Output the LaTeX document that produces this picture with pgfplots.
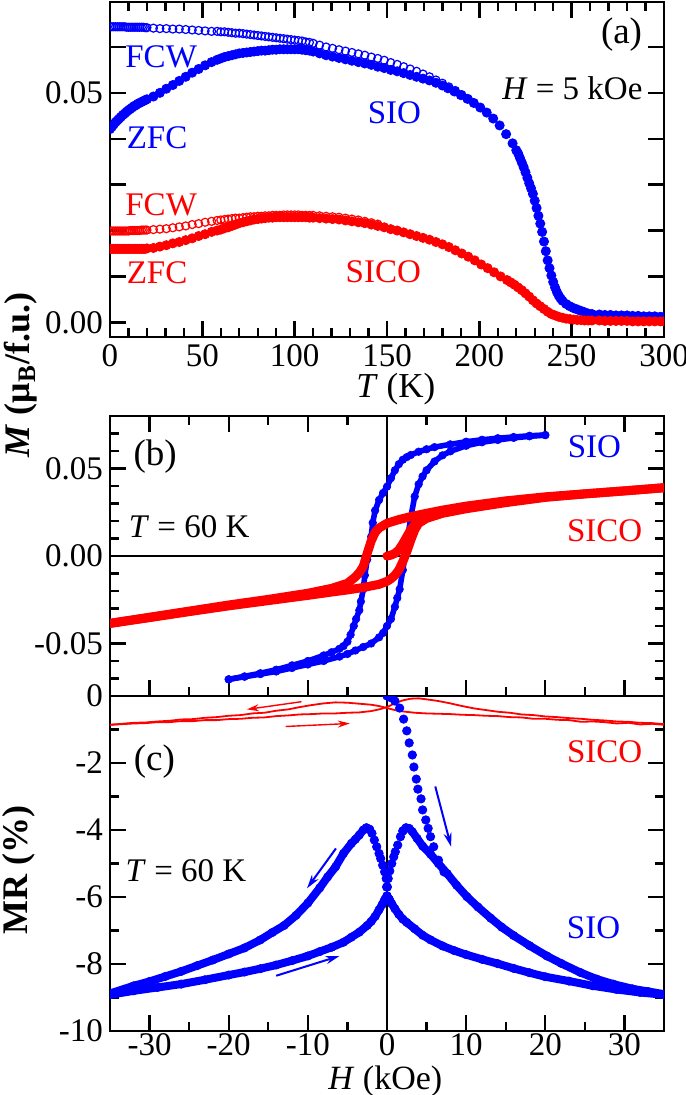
\documentclass[border=0pt]{standalone}
\usepackage{fontspec}
\setmainfont{Liberation Serif}
\usepackage{pgfplots}
\pgfplotsset{compat=1.18}
\usetikzlibrary{arrows.meta}
\definecolor{myblue}{RGB}{0,0,255}
\definecolor{myred}{RGB}{255,0,0}
\pgfplotsset{
  myaxis/.style={
    scale only axis, width=277pt,
    axis line style={line width=1.4pt},
    every tick/.style={black, line width=1.2pt},
    major tick length=8pt, minor tick length=4.5pt,
    tick align=inside,
    scaled ticks=false,
    ticklabel style={font=\fontsize{16.5}{18}\selectfont},
    /pgf/number format/assume math mode=true,
    clip marker paths=true,
  },
}
\tikzset{
  lab/.style={font=\fontsize{16.5}{18}\selectfont},
  plab/.style={font=\fontsize{18.5}{20}\selectfont},
}
\begin{document}
\begin{tikzpicture}
\useasboundingbox (0pt,0pt) rectangle (342.5pt,-547.5pt);
% ---------------- (a)
\begin{axis}[myaxis, at={(55pt,-1pt)}, anchor=north west, height=167.5pt,
  xmin=0, xmax=300, ymin=-0.0032, ymax=0.0698,
  xtick={0,50,100,150,200,250,300}, minor xtick={10,20,30,40,60,70,80,90,110,120,130,140,160,170,180,190,210,220,230,240,260,270,280,290},
  ytick={0,0.01,0.02,0.03,0.04,0.05,0.06}, yticklabels={0.00,,,,,0.05,},
  xticklabels={0,50,100,150,200,250,300},
  xlabel={\textit{T} (K)}, xlabel style={font=\fontsize{17.5}{19}\selectfont, at={(axis description cs:0.516,0)}, anchor=center, yshift=-26pt},
]
% SIO FCW
\addplot[only marks, mark=o, mark size=2pt, mark options={line width=0.6pt}, color=myblue] table {
0 0.0644
1 0.0644
2 0.0644
3 0.0644
4 0.0644
5 0.0644
6 0.0644
7 0.0644
8 0.0644
9 0.0643
10 0.0643
11 0.0643
12 0.0643
13 0.0643
14 0.0643
15 0.0643
16 0.0643
17 0.0643
18 0.0643
19 0.0642
20 0.0642
23.5 0.0641
27 0.0640
30.5 0.0640
34 0.0639
37.5 0.0639
41 0.0638
44.5 0.0637
48 0.0636
51.5 0.0635
55 0.0634
58 0.0634
60 0.0633
62 0.0633
64 0.0632
66 0.0631
68 0.0630
70 0.0630
72 0.0629
74 0.0628
76 0.0627
78 0.0626
80 0.0625
82 0.0624
84 0.0623
86 0.0622
88 0.0621
90 0.0620
92 0.0619
94 0.0618
96 0.0617
98 0.0616
100 0.0615
102 0.0614
104 0.0613
106 0.0611
108 0.0610
110 0.0608
113.5 0.0604
117 0.0600
120.5 0.0597
124 0.0594
127.5 0.0591
131 0.0588
134.5 0.0585
138 0.0582
141.5 0.0578
145 0.0575
148.5 0.0571
152 0.0566
155.5 0.0562
159 0.0557
162.5 0.0552
166 0.0547
169.5 0.0541
173 0.0535
176.5 0.0528
180 0.0521
183.5 0.0513
187 0.0505
190.5 0.0496
194 0.0487
};
% SIO ZFC
\addplot[only marks, mark=*, mark size=2.3pt, color=myblue] table {
0 0.0421
1 0.0426
2 0.0431
3 0.0436
4 0.0440
5 0.0444
6 0.0448
7 0.0452
8 0.0455
9 0.0459
10 0.0462
11 0.0465
12 0.0468
13 0.0471
14 0.0473
15 0.0476
16 0.0478
17 0.0480
18 0.0482
19 0.0484
20 0.0486
23.5 0.0492
27 0.0500
30.5 0.0509
34 0.0517
37.5 0.0526
41 0.0535
44.5 0.0544
48 0.0552
51.5 0.0560
55 0.0567
58 0.0572
60 0.0575
62 0.0578
64 0.0580
66 0.0582
68 0.0584
70 0.0586
72 0.0587
74 0.0588
76 0.0589
78 0.0590
80 0.0591
82 0.0592
84 0.0592
86 0.0593
88 0.0594
90 0.0594
92 0.0595
94 0.0595
96 0.0595
98 0.0595
100 0.0595
102 0.0595
104 0.0594
106 0.0593
108 0.0592
110 0.0590
113.5 0.0586
117 0.0582
120.5 0.0579
124 0.0576
127.5 0.0573
131 0.0570
134.5 0.0567
138 0.0564
141.5 0.0561
145 0.0557
148.5 0.0554
152 0.0550
155.5 0.0547
159 0.0543
162.5 0.0539
166 0.0535
169.5 0.0531
173 0.0527
176.5 0.0522
180 0.0516
183 0.0510
186.5 0.0503
190 0.0495
193.5 0.0487
197 0.0478
200.5 0.0468
204 0.0457
207.5 0.0444
211 0.0429
214.5 0.0410
218 0.0390
220 0.0375
221 0.0368
222 0.0358
223 0.0348
224 0.0338
225 0.0327
226 0.0315
227 0.0303
228 0.0292
229 0.0280
230 0.0265
231 0.0249
232 0.0232
233 0.0215
234 0.0197
235 0.0176
236 0.0155
237 0.0135
238 0.0118
239 0.0102
240 0.0088
241 0.0076
242 0.0066
243 0.0058
244 0.0052
245 0.0047
247 0.0040
249 0.0035
251 0.0031
253 0.0028
255 0.0025
257 0.0022
259 0.0019
261 0.0018
265 0.0017
268 0.0016
271 0.0016
274 0.0015
277 0.0015
280 0.0015
283 0.0014
286 0.0014
289 0.0013
292 0.0013
295 0.0013
298 0.0012
300 0.0012
};
% SICO FCW
\addplot[only marks, mark=o, mark size=2pt, mark options={line width=0.6pt}, color=myred] table {
0 0.0199
1 0.0199
2 0.0199
3 0.0199
4 0.0199
5 0.0199
6 0.0199
7 0.0199
8 0.0199
9 0.0199
10 0.0199
11 0.0200
12 0.0200
13 0.0200
14 0.0200
15 0.0200
16 0.0200
17 0.0201
18 0.0201
19 0.0201
20 0.0201
23.5 0.0202
27 0.0203
30.5 0.0204
34 0.0206
37.5 0.0208
41 0.0210
44.5 0.0213
48 0.0215
51.5 0.0218
55 0.0220
58 0.0222
60 0.0223
62 0.0224
64 0.0225
66 0.0226
68 0.0227
70 0.0227
72 0.0228
74 0.0229
76 0.0230
78 0.0230
80 0.0231
82 0.0231
84 0.0232
86 0.0232
88 0.0233
90 0.0233
92 0.0233
94 0.0234
96 0.0234
98 0.0234
100 0.0234
102 0.0234
104 0.0233
106 0.0233
108 0.0233
110 0.0233
113.5 0.0232
117 0.0231
120.5 0.0230
124 0.0229
127.5 0.0227
131 0.0225
134.5 0.0223
138 0.0220
141.5 0.0217
145 0.0214
};
% SICO ZFC
\addplot[only marks, mark=*, mark size=2.3pt, color=myred] table {
0 0.0160
1 0.0160
2 0.0160
3 0.0160
4 0.0160
5 0.0160
6 0.0160
7 0.0160
8 0.0160
9 0.0160
10 0.0160
11 0.0160
12 0.0160
13 0.0160
14 0.0160
15 0.0160
16 0.0160
17 0.0160
18 0.0160
19 0.0160
20 0.0161
23.5 0.0162
27 0.0165
30.5 0.0168
34 0.0172
37.5 0.0175
41 0.0179
44.5 0.0183
48 0.0188
51.5 0.0192
55 0.0197
58 0.0200
60 0.0202
62 0.0205
64 0.0207
66 0.0210
68 0.0213
70 0.0216
72 0.0218
74 0.0220
76 0.0222
78 0.0224
80 0.0225
82 0.0226
84 0.0227
86 0.0228
88 0.0228
90 0.0229
92 0.0229
94 0.0229
96 0.0229
98 0.0229
100 0.0229
102 0.0229
104 0.0229
106 0.0229
108 0.0228
110 0.0228
113.5 0.0227
117 0.0226
120.5 0.0225
124 0.0224
127.5 0.0222
131 0.0220
134.5 0.0218
138 0.0216
141.5 0.0213
145 0.0210
148.5 0.0207
152 0.0203
155.5 0.0200
159 0.0196
162.5 0.0192
166 0.0188
169.5 0.0184
173 0.0180
176.5 0.0175
180 0.0170
183.5 0.0164
187 0.0157
190.5 0.0150
194 0.0143
197.5 0.0135
201 0.0126
204.5 0.0118
208 0.0109
211.5 0.0100
215 0.0092
217 0.0087
219 0.0082
221 0.0076
223 0.0070
225 0.0063
227 0.0056
229 0.0048
231 0.0041
233 0.0035
235 0.0029
237 0.0023
239 0.0018
241 0.0015
243 0.0012
245 0.0010
247 0.0008
249 0.0007
251 0.0006
253 0.0005
255 0.0005
257 0.0004
259 0.0004
261 0.0004
265 0.0004
268 0.0003
271 0.0003
274 0.0003
277 0.0003
280 0.0003
283 0.0002
286 0.0002
289 0.0002
292 0.0002
295 0.0002
298 0.0002
300 0.0002
};
\node[lab, text=myblue] at (axis cs:27.7,0.0579) {FCW};
\node[lab, text=myblue] at (axis cs:25.5,0.0402) {ZFC};
\node[lab, text=myblue] at (axis cs:154,0.0457) {SIO};
\node[lab, text=myred] at (axis cs:27.7,0.0256) {FCW};
\node[lab, text=myred] at (axis cs:25.5,0.0107) {ZFC};
\node[lab, text=myred] at (axis cs:148,0.0110) {SICO};
\node[plab] at (axis cs:277,0.0626) {(a)};
\node[lab, fill=white, inner sep=1pt] at (axis cs:250.4,0.0511) {\textit{H} = 5 kOe};
\end{axis}
% ---------------- (b)
\begin{axis}[myaxis, at={(55pt,-208pt)}, anchor=north west, height=140pt,
  xmin=-35, xmax=35, ymin=-0.08, ymax=0.08,
  xtick={-30,-20,-10,0,10,20,30}, minor xtick={-25,-15,-5,5,15,25}, xticklabels={},
  ytick={-0.05,0,0.05}, minor ytick={-0.07,-0.06,-0.04,-0.03,-0.02,-0.01,0.01,0.02,0.03,0.04,0.06,0.07},
  yticklabels={-0.05,0.00,0.05},
]
\addplot[black, line width=1pt] coordinates {(0,-0.08) (0,0.08)};
\addplot[black, line width=1pt] coordinates {(-35,0) (35,0)};
% SIO descending
\addplot[myblue, line width=2.8pt, mark=*, mark size=1.9pt, mark options={line width=0.3pt}] table {
20 0.0691
18 0.0687
16 0.0680
14 0.0673
12 0.0664
10 0.0653
8 0.0638
6 0.0622
5 0.0610
4 0.0596
3 0.0577
2.5 0.0565
2 0.0550
1.5 0.0525
1 0.0490
0.5 0.0445
0 0.0396
-0.5 0.0360
-1 0.0320
-1.5 0.0260
-1.8 0.0190
-2 0.0110
-2.3 0.0040
-2.5 -0.0020
-2.8 -0.0110
-3 -0.0190
-3.3 -0.0260
-3.5 -0.0310
-3.9 -0.0360
-4.2 -0.0400
-4.6 -0.0450
-5 -0.0490
-5.5 -0.0515
-6 -0.0530
-7 -0.0550
-8 -0.0568
-10 -0.0600
-12 -0.0625
-14 -0.0650
-16 -0.0670
-18 -0.0688
-20 -0.0705
};
% SIO ascending
\addplot[myblue, line width=2.8pt, mark=*, mark size=1.9pt, mark options={line width=0.3pt}] table {
-20 -0.0705
-18 -0.0690
-16 -0.0675
-14 -0.0660
-12 -0.0640
-10 -0.0620
-8 -0.0600
-6 -0.0575
-5 -0.0560
-4 -0.0540
-3 -0.0520
-2 -0.0500
-1 -0.0465
-0.5 -0.0440
0 -0.0400
0.5 -0.0360
1 -0.0290
1.3 -0.0240
1.6 -0.0190
2 -0.0080
2.3 0.0010
2.6 0.0100
3 0.0220
3.5 0.0340
4 0.0410
4.5 0.0455
5 0.0490
6 0.0540
7 0.0575
8 0.0598
10 0.0630
12 0.0650
14 0.0663
16 0.0675
18 0.0684
20 0.0691
};
% SICO
\addplot[myred, line width=4.5pt, line join=round, line cap=round] table {
0 0.0000
0.5 0.0005
1 0.0015
1.5 0.0035
2 0.0070
2.5 0.0110
3 0.0150
3.5 0.0180
4 0.0200
5 0.0220
7 0.0245
};
\addplot[myred, line width=4.5pt, line join=round, line cap=round] table {
35 0.0390
30 0.0372
25 0.0355
20 0.0338
15 0.0315
10 0.0285
7 0.0262
5 0.0244
3 0.0225
1.5 0.0208
0 0.0187
-1 0.0160
-1.5 0.0135
-2 0.0085
-2.5 0.0015
-3 -0.0060
-3.5 -0.0095
-4 -0.0120
-5 -0.0156
-7 -0.0185
-10 -0.0213
-15 -0.0248
-20 -0.0280
-25 -0.0315
-30 -0.0350
-35 -0.0385
};
\addplot[myred, line width=4.5pt, line join=round, line cap=round] table {
-35 -0.0385
-30 -0.0352
-25 -0.0318
-20 -0.0285
-15 -0.0255
-10 -0.0225
-7 -0.0206
-5 -0.0194
-3 -0.0180
-1 -0.0162
0 -0.0145
0.5 -0.0130
1 -0.0110
1.5 -0.0080
2 -0.0032
2.5 0.0025
3 0.0090
3.5 0.0149
4 0.0187
5 0.0215
7 0.0244
10 0.0270
15 0.0305
20 0.0335
25 0.0355
30 0.0372
35 0.0390
};
\node[plab] at (axis cs:-29.3,0.0566) {(b)};
\node[lab] at (axis cs:-25,0.0166) {\textit{T} = 60 K};
\node[lab, text=myblue] at (axis cs:26.2,0.0623) {SIO};
\node[lab, text=myred] at (axis cs:27.5,0.0143) {SICO};
\end{axis}
% ---------------- (c)
\begin{axis}[myaxis, at={(55pt,-348pt)}, anchor=north west, height=167.5pt,
  xmin=-35, xmax=35, ymin=-10, ymax=0,
  xtick={-30,-20,-10,0,10,20,30}, minor xtick={-25,-15,-5,5,15,25}, xtick pos=bottom,
  ytick={-10,-8,-6,-4,-2,0}, minor ytick={-9,-7,-5,-3,-1},
  xticklabels={-30,-20,-10,0,10,20,30}, yticklabels={-10,-8,-6,-4,-2,0},
  xticklabel style={yshift=2.5pt},
  xlabel={\textit{H} (kOe)}, xlabel style={font=\fontsize{17}{19}\selectfont, at={(axis description cs:0.497,0)}, anchor=center, yshift=-25pt},
]
\addplot[black, line width=1pt] coordinates {(0,-10) (0,0)};
% SICO MR
\addplot[myred, line width=0.9pt] table {
35 -0.86
33.5 -0.83
32 -0.85
30.5 -0.80
29 -0.82
27.5 -0.78
26 -0.76
24.5 -0.77
23 -0.72
21.5 -0.71
20 -0.68
18.5 -0.68
17 -0.64
15.5 -0.63
14 -0.60
12.5 -0.59
11 -0.57
9.5 -0.56
8 -0.54
6.5 -0.53
5 -0.52
3.5 -0.50
2 -0.46
1 -0.42
0 -0.36
-1 -0.30
-2 -0.26
-3.5 -0.23
-5 -0.20
-6.5 -0.19
-8 -0.22
-9.5 -0.27
-11 -0.33
-12.5 -0.40
-14 -0.44
-15.5 -0.50
-17 -0.52
-18.5 -0.57
-20 -0.59
-21.5 -0.63
-23 -0.65
-24.5 -0.69
-26 -0.70
-27.5 -0.74
-29 -0.76
-30.5 -0.79
-32 -0.80
-33.5 -0.83
-35 -0.86
};
\addplot[myred, line width=0.9pt] table {
-35 -0.86
-33.5 -0.84
-32 -0.82
-30.5 -0.81
-29 -0.78
-27.5 -0.78
-26 -0.75
-24.5 -0.75
-23 -0.72
-21.5 -0.72
-20 -0.69
-18.5 -0.68
-17 -0.65
-15.5 -0.64
-14 -0.60
-12.5 -0.58
-11 -0.55
-9.5 -0.54
-8 -0.52
-6.5 -0.52
-5 -0.50
-3.5 -0.49
-2 -0.45
-1 -0.40
0 -0.33
1 -0.22
2 -0.13
3 -0.08
4 -0.07
5 -0.10
6.5 -0.15
8 -0.22
9.5 -0.30
11 -0.37
12.5 -0.42
14 -0.47
15.5 -0.50
17 -0.55
18.5 -0.57
20 -0.61
21.5 -0.63
23 -0.66
24.5 -0.68
26 -0.71
27.5 -0.73
29 -0.76
30.5 -0.77
32 -0.80
33.5 -0.81
35 -0.84
};
% SIO virgin
\addplot[only marks, mark=*, mark size=2.1pt, color=myblue] table {
0 0
0.5 -0.05
1.0 -0.15
1.6 -0.36
2.1 -0.69
2.5 -1.04
2.8 -1.40
3.2 -1.76
3.4 -2.12
3.7 -2.48
3.9 -2.78
4.3 -3.07
4.5 -3.40
4.9 -3.70
5.2 -3.95
5.5 -4.20
5.9 -4.50
6.5 -4.90
7.2 -5.25
};
% SIO down: lower right tail
\addplot[myblue, line width=4pt, line join=round, mark=*, mark size=2.1pt, mark options={line width=0.3pt}] table {
35 -8.92
32 -8.85
29 -8.76
26 -8.65
23 -8.51
20 -8.38
18 -8.26
16 -8.13
14 -7.99
12 -7.86
10 -7.72
8.5 -7.60
7 -7.46
5.5 -7.28
4.5 -7.14
3.5 -6.95
2.5 -6.76
2 -6.66
1.5 -6.52
1 -6.35
0.6 -6.20
0.3 -6.07
0 -5.97
};
% SIO down: centre to left peak
\addplot[only marks, mark=*, mark size=2.1pt, color=myblue] table {
0 -5.97
-0.05 -5.70
-0.1 -5.45
-0.3 -5.25
-0.55 -5.05
-0.8 -4.85
-1.0 -4.70
-1.3 -4.50
-1.6 -4.30
-1.9 -4.10
-2.2 -3.98
};
% SIO down: upper left
\addplot[myblue, line width=4pt, line join=round, mark=*, mark size=2.1pt, mark options={line width=0.3pt}] table {
-2.2 -3.98
-2.6 -3.93
-3.0 -4.00
-3.5 -4.15
-4.0 -4.28
-4.5 -4.40
-5.5 -4.70
-6.5 -5.10
-7.5 -5.40
-8.5 -5.73
-10 -6.18
-11.5 -6.55
-13 -6.85
-14.5 -7.06
-16 -7.28
-18 -7.52
-20 -7.70
-22 -7.88
-24 -8.05
-26 -8.22
-28 -8.37
-30 -8.52
-32 -8.65
-35 -8.88
};
% SIO up: lower left tail
\addplot[myblue, line width=4pt, line join=round, mark=*, mark size=2.1pt, mark options={line width=0.3pt}] table {
-35 -8.92
-32 -8.80
-29 -8.70
-26 -8.60
-23 -8.47
-20 -8.33
-18 -8.24
-16 -8.14
-14 -8.03
-12 -7.90
-10 -7.76
-8.5 -7.63
-7 -7.50
-5.5 -7.35
-4.5 -7.20
-3.5 -7.05
-2.5 -6.85
-2 -6.73
-1.5 -6.58
-1 -6.38
-0.6 -6.22
-0.3 -6.08
0 -5.97
};
% SIO up: centre to right peak
\addplot[only marks, mark=*, mark size=2.1pt, color=myblue] table {
0.05 -5.70
0.15 -5.45
0.35 -5.22
0.6 -5.00
0.85 -4.80
1.05 -4.65
1.35 -4.45
1.7 -4.20
2.0 -4.03
};
% SIO up: upper right
\addplot[myblue, line width=4pt, line join=round, mark=*, mark size=2.1pt, mark options={line width=0.3pt}] table {
2.0 -4.03
2.4 -3.93
2.8 -3.95
3.2 -4.05
3.8 -4.25
4.5 -4.48
5.5 -4.72
6.5 -5.00
7.6 -5.30
8.8 -5.65
10.1 -5.99
11.5 -6.30
13.1 -6.63
14.5 -6.90
16 -7.15
18 -7.45
20.2 -7.76
22 -7.98
24.4 -8.25
26.5 -8.45
28.6 -8.60
31 -8.74
33 -8.82
35 -8.90
};
\draw[myred, line width=0.7pt, -{Stealth[length=6pt,width=3.5pt]}] (axis cs:-10.8,-0.17) -- (axis cs:-17.7,-0.40);
\draw[myred, line width=0.7pt, -{Stealth[length=6pt,width=3.5pt]}] (axis cs:-12.8,-0.91) -- (axis cs:-4.7,-0.82);
\draw[myblue, line width=1pt, -{Stealth[length=7pt,width=4pt]}] (axis cs:6.1,-2.7) -- (axis cs:8.1,-4.5);
\draw[myblue, line width=1pt, -{Stealth[length=7pt,width=4pt]}] (axis cs:-6.45,-4.55) -- (axis cs:-10.1,-5.74);
\draw[myblue, line width=1pt, -{Stealth[length=7pt,width=4pt]}] (axis cs:-14.0,-8.35) -- (axis cs:-6.0,-7.76);
\node[plab] at (axis cs:-29.4,-1.97) {(c)};
\node[lab] at (axis cs:-25.4,-5.2) {\textit{T} = 60 K};
\node[lab, text=myred] at (axis cs:27.5,-1.67) {SICO};
\node[lab, text=myblue] at (axis cs:26.1,-6.93) {SIO};
\end{axis}
\node[rotate=90, font=\bfseries\fontsize{18}{20}\selectfont] at (10.5pt,-187.5pt) {\textit{M} (μ\textsubscript{B}/f.u.)};
\node[rotate=90, font=\bfseries\fontsize{18}{20}\selectfont] at (9.3pt,-435pt) {MR (\%)};
\end{tikzpicture}
\end{document}
